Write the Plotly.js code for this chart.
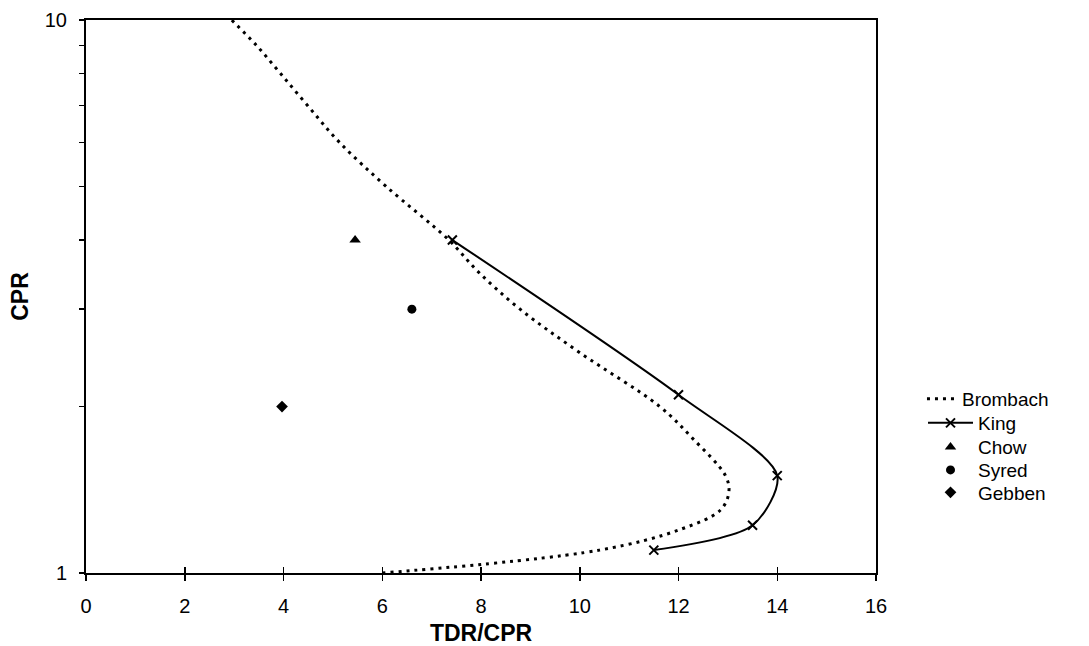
<!DOCTYPE html>
<html>
<head>
<meta charset="utf-8">
<script src="https://cdn.plot.ly/plotly-3.0.1.min.js"></script>
<style>
  html, body { margin: 0; padding: 0; background: #fff; }
  #chart { width: 1089px; height: 646px; }
</style>
</head>
<body>
<div id="chart"></div>
<script>
// Brombach curve: TDR/CPR against CPR
const brombachX = [6.0, 10.4, 12.05, 12.85, 13.02, 12.95, 12.29, 11.62, 10.01, 8.79, 7.95, 7.35, 6.08, 5.14, 4.49, 3.94, 3.45, 2.95];
const brombachY = [1.0, 1.1, 1.2, 1.3, 1.4, 1.5, 1.75, 2.0, 2.5, 3.0, 3.5, 4.0, 5.0, 6.0, 7.0, 8.0, 9.0, 10.0];

// King curve
const kingX = [11.5, 13.5, 14.0, 12.0, 7.42];
const kingY = [1.1, 1.22, 1.5, 2.1, 4.0];

// Single reported points
const chowX = [5.45];   const chowY = [4.0];
const syredX = [6.6];   const syredY = [3.0];
const gebbenX = [3.97]; const gebbenY = [2.0];

const xTicks = [0, 2, 4, 6, 8, 10, 12, 14, 16];
const yTicks = [1, 2, 3, 4, 5, 6, 7, 8, 9, 10];
const yTickText = ['1', '', '', '', '', '', '', '', '', '10'];

const FONT = 'Arial, "Liberation Sans", sans-serif';
const BLACK = '#000';

const traces = [
  {
    name: 'Brombach', x: brombachX, y: brombachY, type: 'scatter', mode: 'lines',
    line: { color: BLACK, width: 3, dash: '3px,5px', shape: 'spline', smoothing: 1 },
    legend: 'legend'
  },
  {
    name: 'King', x: kingX, y: kingY, type: 'scatter', mode: 'lines+markers',
    line: { color: BLACK, width: 2, shape: 'spline', smoothing: 0.8 },
    marker: { symbol: 'x-thin', size: 9, color: BLACK, line: { color: BLACK, width: 2 } },
    legend: 'legend2'
  },
  {
    name: 'Chow', x: chowX, y: chowY, type: 'scatter', mode: 'markers',
    marker: { symbol: 'triangle-up', size: 10, color: BLACK },
    legend: 'legend3'
  },
  {
    name: 'Syred', x: syredX, y: syredY, type: 'scatter', mode: 'markers',
    marker: { symbol: 'circle', size: 9, color: BLACK },
    legend: 'legend4'
  },
  {
    name: 'Gebben', x: gebbenX, y: gebbenY, type: 'scatter', mode: 'markers',
    marker: { symbol: 'diamond', size: 9, color: BLACK },
    legend: 'legend5'
  },
  // invisible carrier for the overlay axis holding the inner x tick marks
  {
    x: [0], y: [1], xaxis: 'x2', yaxis: 'y', type: 'scatter', mode: 'markers',
    marker: { opacity: 0 }, showlegend: false, hoverinfo: 'skip'
  }
];

// one legend box per entry so each row sits at its own height
function legendBox(xPaper, yPaper, width) {
  return {
    x: xPaper, xanchor: 'left', y: yPaper, yanchor: 'top',
    font: { family: FONT, size: 19, color: BLACK },
    bgcolor: 'rgba(0,0,0,0)', borderwidth: 0, itemwidth: width
  };
}

const layout = {
  width: 1089, height: 646,
  margin: { l: 86, r: 213, t: 20, b: 73 },
  paper_bgcolor: '#fff', plot_bgcolor: '#fff',
  font: { family: FONT, size: 20, color: BLACK },
  showlegend: true,
  legend:  legendBox(1.0582, 0.3491, 30),
  legend2: legendBox(1.0595, 0.3056, 45),
  legend3: legendBox(1.0595, 0.2621, 45),
  legend4: legendBox(1.0595, 0.2205, 45),
  legend5: legendBox(1.0595, 0.1800, 45),
  xaxis: {
    range: [0, 16], tickmode: 'array', tickvals: xTicks, ticktext: xTicks.map(String),
    showgrid: false, zeroline: false,
    showline: true, linecolor: BLACK, linewidth: 2, mirror: true,
    ticks: 'outside', ticklen: 6, tickwidth: 1.5, tickcolor: BLACK,
    ticklabelstandoff: 8,
    tickfont: { family: FONT, size: 20, color: BLACK },
    title: { text: '<b>TDR/CPR</b>', font: { family: FONT, size: 23, color: BLACK }, standoff: 9 }
  },
  xaxis2: {
    range: [0, 16], overlaying: 'x', anchor: 'y', side: 'bottom',
    tickmode: 'array', tickvals: xTicks, showticklabels: false,
    showgrid: false, zeroline: false, showline: false,
    ticks: 'inside', ticklen: 6, tickwidth: 1.5, tickcolor: BLACK
  },
  yaxis: {
    type: 'log', range: [0, 1], tickmode: 'array', tickvals: yTicks, ticktext: yTickText,
    showgrid: false, zeroline: false,
    showline: true, linecolor: BLACK, linewidth: 2, mirror: true,
    ticks: 'outside', ticklen: 5, tickwidth: 1.5, tickcolor: BLACK,
    ticklabelstandoff: 8,
    tickfont: { family: FONT, size: 20, color: BLACK },
    title: { text: '<b>CPR</b>', font: { family: FONT, size: 23, color: BLACK }, standoff: 10 }
  }
};

Plotly.newPlot('chart', traces, layout, { displayModeBar: false, staticPlot: true });
</script>
</body>
</html>
